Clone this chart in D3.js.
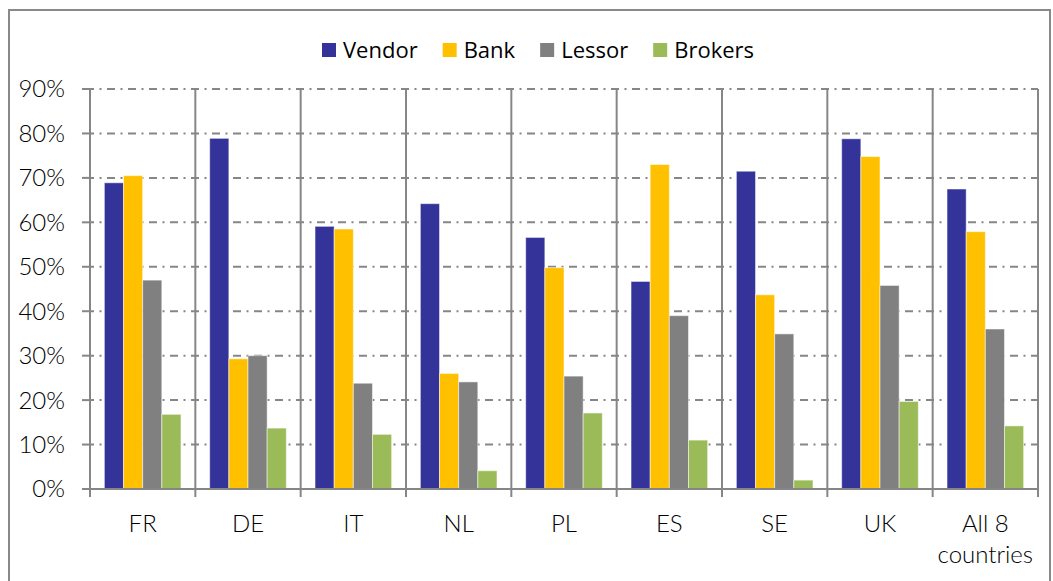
<!DOCTYPE html>
<html lang="en">
<head>
<meta charset="UTF-8">
<title>Chart</title>
<script src="https://cdn.jsdelivr.net/npm/d3@7"></script>
<style>
  body { margin: 0; background: #fff; }
  svg { display: block; }
</style>
</head>
<body>
<svg width="1053" height="581"></svg>
<script>
// data
var categories = ["FR", "DE", "IT", "NL", "PL", "ES", "SE", "UK", "All 8 countries"]
var seriesNames = ["Vendor", "Bank", "Lessor", "Brokers"]
var colors = ["#333399", "#FFC000", "#808080", "#9BBB59"]
var vendor  = [68.9, 78.9, 59.1, 64.2, 56.6, 46.7, 71.5, 78.8, 67.5]
var bank    = [70.5, 29.3, 58.5, 26.0, 49.8, 73.0, 43.7, 74.8, 57.9]
var lessor  = [47.0, 30.0, 23.8, 24.1, 25.4, 39.0, 34.9, 45.8, 36.0]
var brokers = [16.8, 13.7, 12.3, 4.1, 17.1, 11.0, 2.0, 19.7, 14.2]
var yTicks = [0, 10, 20, 30, 40, 50, 60, 70, 80, 90]

var values = [vendor, bank, lessor, brokers]

var svg = d3.select("svg")
var plot = {left: 90, right: 1038, top: 89, bottom: 489}
var gridColor = "#868686"
var labelFont = "Lato, 'DejaVu Sans', sans-serif"

// outer frame
svg.append("rect")
    .attr("x", 9).attr("y", 10)
    .attr("width", 1041).attr("height", 600)
    .attr("fill", "none").attr("stroke", "#898989").attr("stroke-width", 2)

var x = d3.scaleBand().domain(categories).range([plot.left, plot.right]).padding(0)
var x1 = d3.scaleBand().domain(seriesNames).range([0, x.bandwidth()])
    .paddingInner(0).paddingOuter(0.75)
var y = d3.scaleLinear().domain([0, 90]).range([plot.bottom, plot.top])

// horizontal dash-dot gridlines
svg.append("g").selectAll("line").data(yTicks.filter(d => d > 0)).enter().append("line")
    .attr("x1", plot.left).attr("x2", plot.right)
    .attr("y1", d => y(d)).attr("y2", d => y(d))
    .attr("stroke", gridColor).attr("stroke-width", 2)
    .attr("stroke-dasharray", "8,5.5,2,5.5")
    .attr("stroke-dashoffset", 4)

// y tick marks
svg.append("g").selectAll("line").data(yTicks).enter().append("line")
    .attr("x1", plot.left - 8).attr("x2", plot.left)
    .attr("y1", d => y(d)).attr("y2", d => y(d))
    .attr("stroke", gridColor).attr("stroke-width", 2)

// vertical category separators (with ticks below the axis)
var bounds = categories.map(c => x(c)).concat([plot.right])
svg.append("g").selectAll("line").data(bounds).enter().append("line")
    .attr("x1", d => d).attr("x2", d => d)
    .attr("y1", plot.top).attr("y2", plot.bottom + 8)
    .attr("stroke", gridColor).attr("stroke-width", 2)

// bars
var groups = svg.append("g").selectAll("g").data(categories).enter().append("g")
    .attr("transform", d => `translate(${x(d)},0)`)

groups.selectAll("rect")
    .data((c, i) => seriesNames.map((s, j) => ({s: s, j: j, v: values[j][i]})))
    .enter().append("rect")
    .attr("x", d => x1(d.s))
    .attr("width", x1.bandwidth())
    .attr("y", d => y(d.v))
    .attr("height", d => y(0) - y(d.v))
    .attr("fill", d => colors[d.j])
    .attr("stroke", "#ffffff").attr("stroke-opacity", 0.5).attr("stroke-width", 1)

// x axis line
svg.append("line")
    .attr("x1", plot.left).attr("x2", plot.right)
    .attr("y1", plot.bottom).attr("y2", plot.bottom)
    .attr("stroke", gridColor).attr("stroke-width", 2)

// y labels
svg.append("g").selectAll("text").data(yTicks).enter().append("text")
    .attr("x", 65).attr("y", d => y(d))
    .attr("dy", "0.35em")
    .attr("text-anchor", "end")
    .attr("font-family", labelFont).attr("font-size", 24).attr("font-weight", 300)
    .attr("fill", "#000")
    .text(d => d + "%")

// x labels
var xl = svg.append("g").selectAll("text").data(categories).enter().append("text")
    .attr("x", d => x(d) + x.bandwidth() / 2)
    .attr("y", 532)
    .attr("text-anchor", "middle")
    .attr("font-family", labelFont).attr("font-size", 24).attr("font-weight", 300)
    .attr("fill", "#000")
xl.each(function (d) {
    var t = d3.select(this)
    if (d === "All 8 countries") {
        t.append("tspan").attr("x", x(d) + x.bandwidth() / 2).text("All 8")
        t.append("tspan").attr("x", x(d) + x.bandwidth() / 2).attr("dy", 31).text("countries")
    } else {
        t.text(d)
    }
})

// legend
var legend = svg.append("g")
var lx = 322
seriesNames.forEach(function (s, i) {
    legend.append("rect")
        .attr("x", lx).attr("y", 43).attr("width", 14).attr("height", 14)
        .attr("fill", colors[i])
    var t = legend.append("text")
        .attr("x", lx + 21).attr("y", 58)
        .attr("font-family", "'Open Sans', 'Noto Sans', sans-serif").attr("font-size", 22)
        .attr("fill", "#000")
        .text(s)
    lx = lx + 21 + t.node().getComputedTextLength() + 25
})
</script>
</body>
</html>
